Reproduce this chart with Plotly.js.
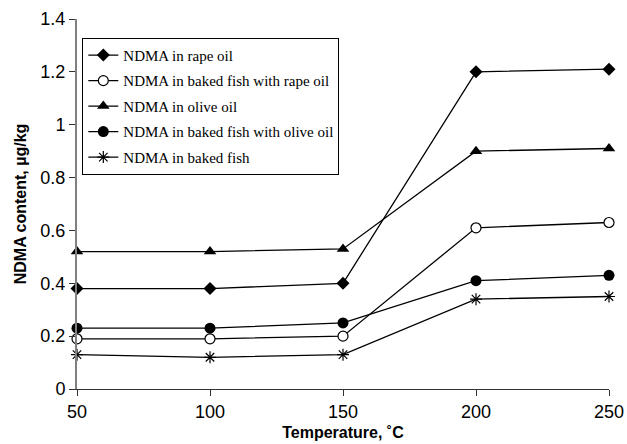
<!DOCTYPE html>
<html><head><meta charset="utf-8">
<script src="https://cdn.plot.ly/plotly-3.0.1.min.js"></script>
<style>body{margin:0;background:#fff}#chart{width:627px;height:444px}</style>
</head><body><div id="chart"></div>
<script>
const temperatures = [50, 100, 150, 200, 250];
const seriesNames = [
  "NDMA in rape oil",
  "NDMA in baked fish with rape oil",
  "NDMA in olive oil",
  "NDMA in baked fish with olive oil",
  "NDMA in baked fish"
];
const rapeOil = [0.38, 0.38, 0.40, 1.20, 1.21];
const fishRapeOil = [0.19, 0.19, 0.20, 0.61, 0.63];
const oliveOil = [0.52, 0.52, 0.53, 0.90, 0.91];
const fishOliveOil = [0.23, 0.23, 0.25, 0.41, 0.43];
const bakedFish = [0.13, 0.12, 0.13, 0.34, 0.35];
const yTickVals = [0, 0.2, 0.4, 0.6, 0.8, 1, 1.2, 1.4];
const yTickText = ["0", "0.2", "0.4", "0.6", "0.8", "1", "1.2", "1.4"];

const values = [rapeOil, fishRapeOil, oliveOil, fishOliveOil, bakedFish];
const markers = [
  {symbol: "diamond", size: 10, color: "#000"},
  {symbol: "circle", size: 10, color: "#fff", line: {color: "#000", width: 1.2}},
  {symbol: "triangle-up", size: 11, color: "#000"},
  {symbol: "circle", size: 11, color: "#000"},
  {symbol: "asterisk-open", size: 10, color: "#000", line: {color: "#000", width: 1.2}}
];
const traces = values.map((v, i) => ({
  x: temperatures, y: v, name: seriesNames[i], type: "scatter", mode: "lines+markers",
  line: {color: "#000", width: 1.3}, marker: markers[i], legendgroup: "g" + i, cliponaxis: false
}));

const layout = {
  width: 627, height: 444,
  margin: {l: 77, r: 18, t: 19, b: 55},
  paper_bgcolor: "#fff", plot_bgcolor: "#fff",
  font: {family: "Liberation Sans, Arial, sans-serif", color: "#000", size: 17},
  showlegend: true,
  legend: {
    x: 0.01, y: 0.949, xanchor: "left", yanchor: "top",
    bordercolor: "#000", borderwidth: 1, bgcolor: "#fff",
    font: {family: "Liberation Serif, Times New Roman, serif", size: 15, color: "#000"},
    traceorder: "grouped", tracegroupgap: 3, itemwidth: 30,
    entrywidth: 262, entrywidthmode: "pixels"
  },
  xaxis: {
    range: [50, 250], tickvals: temperatures, ticks: "outside", ticklen: 6, tickcolor: "#333",
    showline: true, linecolor: "#333", linewidth: 1.2, showgrid: false, zeroline: false,
    tickfont: {size: 18},
    title: {text: "<b>Temperature, ˚C</b>", font: {size: 16}, standoff: 6}
  },
  yaxis: {
    range: [0, 1.4], tickvals: yTickVals, ticktext: yTickText, ticks: "outside", ticklen: 6, tickcolor: "#333",
    showline: true, linecolor: "#808080", linewidth: 2, showgrid: false, zeroline: false,
    tickfont: {size: 18},
    title: {text: "<b>NDMA content, µg/kg</b>", font: {size: 16}, standoff: 10}
  }
};
Plotly.newPlot("chart", traces, layout, {displayModeBar: false, staticPlot: true});
</script></body></html>
